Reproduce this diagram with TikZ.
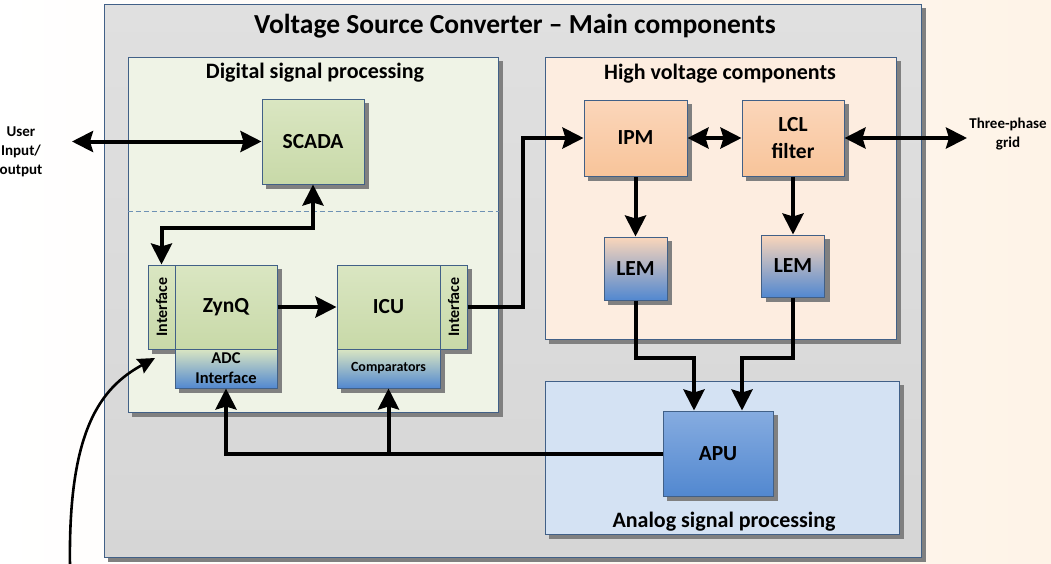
\documentclass[tikz,border=0pt]{standalone}
\usepackage{fontspec}
\setmainfont{Carlito}
\usetikzlibrary{arrows.meta,positioning,calc}

\definecolor{edge}{RGB}{65,96,135}
\definecolor{outertop}{RGB}{224,224,224}
\definecolor{outerbot}{RGB}{214,214,214}
\definecolor{dspfill}{RGB}{239,243,230}
\definecolor{hvfill}{RGB}{253,237,224}
\definecolor{aspfill}{RGB}{212,226,243}
\definecolor{greentop}{RGB}{218,230,194}
\definecolor{greenbot}{RGB}{200,217,168}
\definecolor{peachtop}{RGB}{251,214,186}
\definecolor{peachbot}{RGB}{248,196,154}
\definecolor{bluetop}{RGB}{134,172,224}
\definecolor{bluebot}{RGB}{82,136,208}
\definecolor{shadowgray}{RGB}{128,128,128}
\definecolor{bgpeach}{RGB}{254,243,231}
\definecolor{sepcol}{RGB}{110,145,180}

\pgfdeclarelayer{bgshadow}
\pgfdeclarelayer{bgframe}
\pgfdeclarelayer{grpshadow}
\pgfdeclarelayer{grpbox}
\pgfdeclarelayer{blkshadow}
\pgfsetlayers{bgshadow,bgframe,grpshadow,grpbox,blkshadow,main}

\begin{document}
\begin{tikzpicture}[
  x=1pt, y=-1pt,
  grp/.style={draw=edge, line width=1pt, inner sep=0pt},
  blk/.style={draw=edge, line width=1pt, inner sep=0pt, align=center, font=\fontsize{21.5}{27}\selectfont\bfseries},
  grn/.style={blk, top color=greentop, bottom color=greenbot},
  pch/.style={blk, top color=peachtop, bottom color=peachbot},
  shadowbox/.style={fill=shadowgray},
  ttl/.style={font=\fontsize{22}{26}\selectfont\bfseries},
  iotxt/.style={align=center, font=\fontsize{15}{19}\selectfont\bfseries},
  >={Stealth[length=21pt, width=21pt, inset=3pt]},
  arr/.style={->, line width=4pt},
  darr/.style={<->, line width=4pt}
]
  \useasboundingbox (0,0) rectangle (1051,563);

  \begin{pgfonlayer}{bgshadow}
    \fill[left color=white, right color=bgpeach] (0,0) rectangle (1051,563);
  \end{pgfonlayer}

  \begin{pgfonlayer}{bgframe}
    \node[grp, top color=outertop, bottom color=outerbot, minimum width=817, minimum height=553] (vsc) at (512.5,280.5) {};
  \end{pgfonlayer}
  \node[ttl, font=\fontsize{27.5}{32}\selectfont\bfseries] (vsctitle) at (515,26) {Voltage Source Converter -- Main components};

  \begin{pgfonlayer}{grpbox}
    \node[grp, fill=dspfill, minimum width=370, minimum height=355] (dsp) at (313,234.5) {};
    \node[grp, fill=hvfill, minimum width=351, minimum height=282] (hv) at (720.5,198) {};
    \node[grp, fill=aspfill, minimum width=354, minimum height=153] (asp) at (722,457.5) {};
  \end{pgfonlayer}
  \node[ttl] (dsptitle) at (315,73) {Digital signal processing};
  \node[ttl] (hvtitle) at (720,74) {High voltage components};
  \node[ttl] (asptitle) at (724,522) {Analog signal processing};
  \draw[sepcol, line width=1pt, dash pattern=on 5pt off 3pt] (dsp.west |- 0,211) -- (dsp.east |- 0,211);

  \node[grn, minimum width=102, minimum height=85] (scada) at (313,141.5) {SCADA};

  \node[grn, minimum width=27, minimum height=84, font=\fontsize{16}{19}\selectfont\bfseries] (ifl) at (161.5,307) {\rotatebox{90}{Interface}};
  \node[grn, minimum width=102, minimum height=84] (zynq) at (226,307) {ZynQ};
  \node[blk, top color=greentop, bottom color=bluebot, minimum width=102, minimum height=39, font=\fontsize{16.5}{20}\selectfont\bfseries] (adc) at (226,368.5) {ADC\\Interface};

  \node[grn, minimum width=103, minimum height=84] (icu) at (388.5,307) {ICU};
  \node[grn, minimum width=27, minimum height=84, font=\fontsize{16}{19}\selectfont\bfseries] (ifr) at (453.5,307) {\rotatebox{90}{Interface}};
  \node[blk, top color=greentop, bottom color=bluebot, minimum width=103, minimum height=39, font=\fontsize{14}{17}\selectfont\bfseries] (comp) at (388.5,368.5) {Comparators};

  \node[pch, minimum width=103, minimum height=76] (ipm) at (635.5,138) {IPM};
  \node[pch, minimum width=102, minimum height=76] (lcl) at (793,138) {LCL\\filter};
  \node[blk, top color=peachtop, bottom color=bluebot, minimum width=63, minimum height=63] (lem1) at (635.5,268.5) {LEM};
  \node[blk, top color=peachtop, bottom color=bluebot, minimum width=63, minimum height=62] (lem2) at (793,266) {LEM};

  \node[blk, top color=bluetop, bottom color=bluebot, minimum width=110, minimum height=85] (apu) at (718,453.5) {APU};

  \begin{pgfonlayer}{bgshadow}
    \fill[shadowbox] ([shift={(4.5,4)}]vsc.north west) rectangle ([shift={(4.5,4)}]vsc.south east);
  \end{pgfonlayer}
  \begin{pgfonlayer}{grpshadow}
    \foreach \g in {dsp,hv,asp}
      \fill[shadowbox] ([shift={(4.5,4)}]\g.north west) rectangle ([shift={(4.5,4)}]\g.south east);
  \end{pgfonlayer}
  \begin{pgfonlayer}{blkshadow}
    \foreach \b in {scada,ifl,zynq,adc,icu,ifr,comp,ipm,lcl,lem1,lem2,apu}
      \fill[shadowbox] ([shift={(4.5,4)}]\b.north west) rectangle ([shift={(4.5,4)}]\b.south east);
  \end{pgfonlayer}

  \node[iotxt] (user) at (21,152) {User\\Input/\\output};
  \node[iotxt] (grid) at (1008,134) {Three-phase\\grid};
  \coordinate (uio) at (72,141.5);
  \coordinate (gridend) at (967,138);
  \coordinate (src) at (70,566);
  \coordinate (adcin) at (155,358);

  \draw[darr] (uio) -- (scada.west);
  \draw[darr] (scada.south) -- ++(0,43) -| (ifl.north);
  \draw[arr] (zynq.east) -- (icu.west);
  \draw[arr] (ifr.east) -- ++(55,0) |- (ipm.west);
  \draw[darr] (ipm.east) -- (lcl.west);
  \draw[darr] (lcl.east) -- (gridend);
  \draw[arr] (ipm.south) -- (lem1.north);
  \draw[arr] (lcl.south) -- (lem2.north);
  \draw[arr] (lem1.south) -- ++(0,57) -| ([xshift=-24pt]apu.north);
  \draw[arr] (lem2.south) -- ++(0,60) -| ([xshift=24pt]apu.north);
  \draw[arr] (apu.west) -| (adc.south);
  \draw[arr] (comp.south |- apu.west) -- (comp.south);
  \draw[line width=2.6pt, -{Stealth[length=17pt, width=16pt, inset=2pt]}] (src) .. controls +(-2,-135) and +(-55,30) .. (adcin);
\end{tikzpicture}
\end{document}
